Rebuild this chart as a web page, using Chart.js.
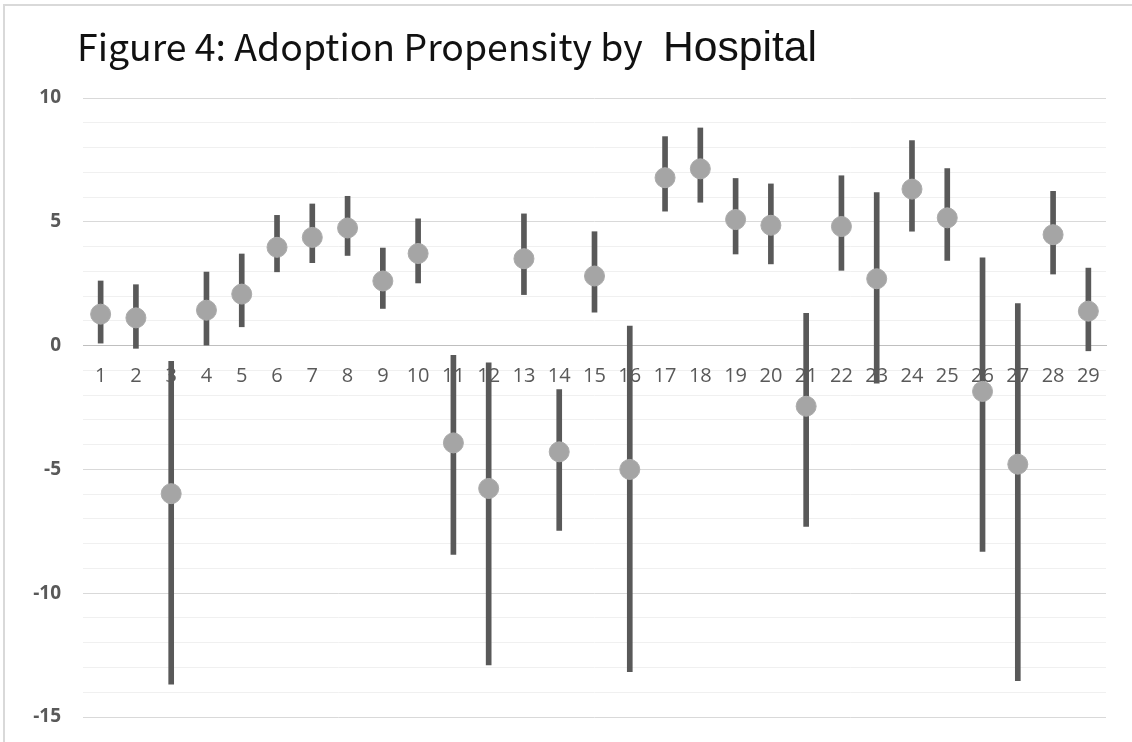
<!DOCTYPE html>
<html>
<head>
<meta charset="utf-8">
<script src="https://cdn.jsdelivr.net/npm/chart.js@4.4.1/dist/chart.umd.min.js"></script>
<style>
  html, body { margin: 0; padding: 0; background: #ffffff; }
  #wrap { width: 1132px; height: 742px; position: relative; }
</style>
</head>
<body>
<div id="wrap"><canvas id="chart" width="1132" height="742"></canvas></div>
<script>
// Hospitals 1..29
const hospitals = ['1','2','3','4','5','6','7','8','9','10','11','12','13','14','15','16','17','18','19','20','21','22','23','24','25','26','27','28','29'];

// Point estimate of adoption propensity per hospital
const estimate = [1.27, 1.12, -5.98, 1.43, 2.08, 3.97, 4.37, 4.75, 2.61, 3.72, -3.93, -5.77, 3.51, -4.29, 2.81, -5.00, 6.78, 7.14, 5.09, 4.86, -2.45, 4.81, 2.70, 6.32, 5.16, -1.85, -4.79, 4.48, 1.39];

// Interval bounds
const lower = [0.10, -0.11, -13.67, 0.00, 0.76, 2.98, 3.35, 3.64, 1.50, 2.53, -8.43, -12.90, 2.06, -7.46, 1.35, -13.17, 5.43, 5.79, 3.70, 3.30, -7.30, 3.04, -1.52, 4.62, 3.44, -8.31, -13.53, 2.89, -0.21];
const upper = [2.61, 2.46, -0.64, 2.97, 3.70, 5.26, 5.72, 6.03, 3.94, 5.12, -0.39, -0.70, 5.32, -1.78, 4.60, 0.79, 8.44, 8.79, 6.75, 6.53, 1.30, 6.86, 6.18, 8.28, 7.15, 3.54, 1.70, 6.23, 3.13];

// Y axis range and labelled ticks
const yMin = -15, yMax = 10;
const yTickLabels = [-15, -10, -5, 0, 5, 10];

const titleMain = 'Figure 4: Adoption Propensity by';
const titleTail = 'Hospital';

const intervals = lower.map((lo, i) => [lo, upper[i]]);

// White background plus the thin frame along the top and left edges
const framePlugin = {
  id: 'frame',
  beforeDraw(chart) {
    const ctx = chart.ctx;
    ctx.save();
    ctx.fillStyle = '#ffffff';
    ctx.fillRect(0, 0, chart.width, chart.height);
    ctx.strokeStyle = '#d9d9d9';
    ctx.lineWidth = 2;
    ctx.beginPath();
    ctx.moveTo(4, chart.height);
    ctx.lineTo(4, 5);
    ctx.lineTo(chart.width, 5);
    ctx.stroke();
    ctx.restore();
  }
};

// Two-part title: the last word is set in a larger face
function fitFont(ctx, text, family, weight, targetWidth) {
  ctx.font = weight + ' 100px ' + family;
  const w = ctx.measureText(text).width;
  return 100 * targetWidth / w;
}
const titlePlugin = {
  id: 'twoPartTitle',
  afterDraw(chart) {
    const ctx = chart.ctx;
    ctx.save();
    ctx.fillStyle = '#111111';
    ctx.textBaseline = 'alphabetic';
    ctx.textAlign = 'left';
    const famA = '"Noto Sans CJK JP", "Noto Sans", sans-serif';
    const famB = '"Liberation Sans", Arial, sans-serif';
    const sizeA = fitFont(ctx, titleMain, famA, 'normal', 566);
    ctx.font = 'normal ' + sizeA + 'px ' + famA;
    ctx.fillText(titleMain, 77, 61);
    const sizeB = fitFont(ctx, titleTail, famB, 'normal', 154);
    ctx.font = 'normal ' + sizeB + 'px ' + famB;
    ctx.fillText(titleTail, 663, 61);
    ctx.restore();
  }
};

new Chart(document.getElementById('chart'), {
  type: 'bar',
  data: {
    labels: hospitals,
    datasets: [
      {
        type: 'line',
        label: 'Estimate',
        data: estimate,
        showLine: false,
        pointRadius: 10,
        pointHoverRadius: 10,
        pointBackgroundColor: '#a5a5a5',
        pointBorderColor: '#acacac',
        pointBorderWidth: 1,
        order: 0
      },
      {
        type: 'bar',
        label: 'Interval',
        data: intervals,
        backgroundColor: '#595959',
        borderWidth: 0,
        borderSkipped: false,
        barThickness: 5,
        order: 1
      }
    ]
  },
  options: {
    responsive: false,
    animation: false,
    events: [],
    layout: { padding: { left: 0, top: 98, right: 26, bottom: 25 } },
    plugins: {
      legend: { display: false },
      title: { display: false },
      tooltip: { enabled: false }
    },
    scales: {
      x: {
        position: { y: 0 },
        offset: true,
        afterFit(scale) { scale.height = 0; scale.paddingTop = 0; scale.paddingBottom = 0; },
        grid: { display: false, drawTicks: false },
        border: { display: true, color: '#bfbfbf', width: 1 },
        ticks: {
          padding: 19,
          color: '#595959',
          font: { family: '"Open Sans", "Noto Sans", sans-serif', size: 20 },
          maxRotation: 0,
          autoSkip: false
        }
      },
      y: {
        min: yMin,
        max: yMax,
        afterFit(scale) { scale.width = 83; scale.paddingTop = 0; scale.paddingBottom = 0; },
        border: { display: false },
        grid: {
          drawTicks: false,
          lineWidth: 1,
          color(ctx) {
            const v = ctx.tick ? ctx.tick.value : null;
            if (v === 0) return '#bfbfbf';
            if (yTickLabels.includes(v)) return '#d9d9d9';
            return '#f0f0f0';
          }
        },
        ticks: {
          stepSize: 1,
          autoSkip: false,
          padding: 22,
          color: '#595959',
          font: { family: '"Open Sans", "Noto Sans", sans-serif', size: 19, weight: 'bold' },
          callback(value) { return yTickLabels.includes(value) ? String(value) : ''; }
        }
      }
    }
  },
  plugins: [framePlugin, titlePlugin]
});
</script>
</body>
</html>
